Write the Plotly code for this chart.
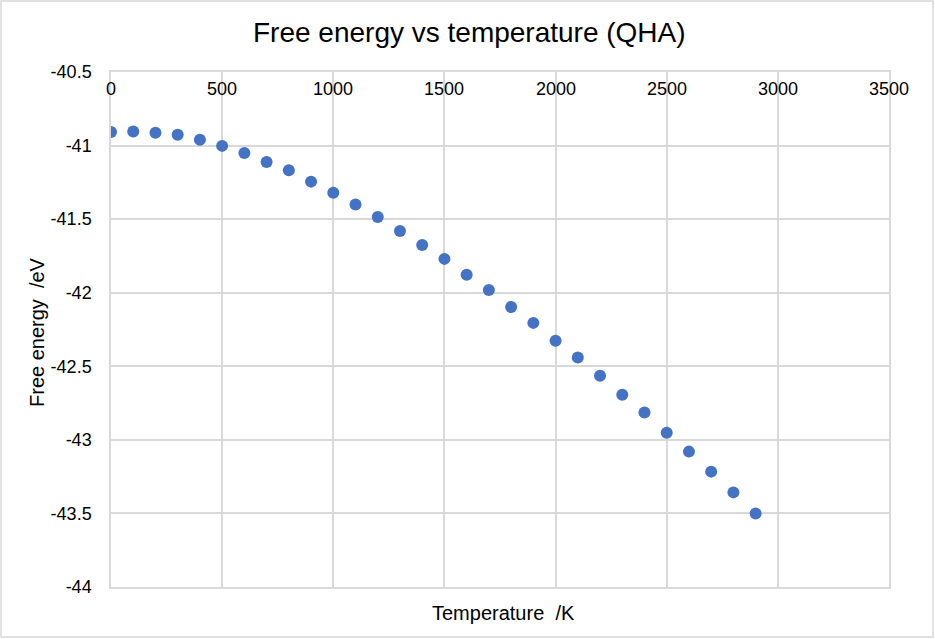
import plotly.graph_objects as go

temperature = [0, 100, 200, 300, 400, 500, 600, 700, 800, 900, 1000, 1100, 1200, 1300, 1400,
               1500, 1600, 1700, 1800, 1900, 2000, 2100, 2200, 2300, 2400, 2500, 2600, 2700, 2800, 2900]
free_energy = [-40.907, -40.905, -40.913, -40.927, -40.961, -41.002, -41.051, -41.111, -41.168, -41.245,
               -41.320, -41.400, -41.486, -41.581, -41.676, -41.770, -41.878, -41.982, -42.097, -42.205,
               -42.326, -42.441, -42.565, -42.694, -42.814, -42.952, -43.080, -43.216, -43.357, -43.500]

x_ticks = [0, 500, 1000, 1500, 2000, 2500, 3000, 3500]
x_tick_text = ["0", "500", "1000", "1500", "2000", "2500", "3000", "3500"]
y_ticks = [-40.5, -41, -41.5, -42, -42.5, -43, -43.5, -44]
y_tick_text = ["-40.5", "-41", "-41.5", "-42", "-42.5", "-43", "-43.5", "-44"]

W, H = 935, 639
L, R, T, B = 111, 46, 72, 52
pw, ph = W - L - R, H - T - B

grid = "#d9d9d9"
font = "Liberation Sans, Arial, sans-serif"

fig = go.Figure()
fig.add_trace(go.Scatter(
    x=temperature, y=free_energy, mode="markers",
    marker=dict(color="#4472C4", size=12, line=dict(width=0)),
    showlegend=False,
))

annotations = [
    dict(text="Free energy vs temperature (QHA)", xref="paper", yref="paper",
         x=(W / 2 + 2 - L) / pw, y=1 + (T - 32) / ph,
         xanchor="center", yanchor="middle", showarrow=False,
         font=dict(size=28, family=font, color="#000000")),
    dict(text="Temperature  /K", xref="paper", yref="paper",
         x=(503 - L) / pw, y=-(613 - (T + ph)) / ph,
         xanchor="center", yanchor="middle", showarrow=False,
         font=dict(size=20, family=font, color="#000000")),
    dict(text="Free energy  /eV", xref="paper", yref="paper",
         x=-(L - 37) / pw, y=1 - (332 - T) / ph, textangle=-90,
         xanchor="center", yanchor="middle", showarrow=False,
         font=dict(size=20, family=font, color="#000000")),
]
for v, t in zip(x_ticks, x_tick_text):
    annotations.append(dict(text=t, xref="x", yref="paper", x=v, y=1 - (89 - T) / ph,
                            xanchor="center", yanchor="middle", showarrow=False,
                            font=dict(size=18, family=font, color="#000000")))

fig.update_layout(
    width=W, height=H,
    margin=dict(l=L, r=R, t=T, b=B, pad=0),
    paper_bgcolor="white", plot_bgcolor="white",
    font=dict(family=font, color="#000000", size=18),
    xaxis=dict(
        range=[0, 3500], tickvals=x_ticks, showticklabels=False,
        showgrid=True, gridcolor=grid, gridwidth=1.5, zeroline=False,
        showline=True, linecolor=grid, linewidth=1.5, mirror=True, ticks="",
    ),
    yaxis=dict(
        range=[-44.0001, -40.4999], tickvals=y_ticks, ticktext=y_tick_text,
        showgrid=True, gridcolor=grid, gridwidth=1.5, zeroline=False,
        showline=True, linecolor=grid, linewidth=1.5, mirror=True,
        ticks="", ticklabelstandoff=14, tickfont=dict(size=18, family=font, color="#000000"),
    ),
    annotations=annotations,
    shapes=[
        dict(type="rect", xref="paper", yref="paper",
             x0=-(L - 1) / pw, x1=1 + (R - 2) / pw,
             y0=-(B - 2) / ph, y1=1 + (T - 1) / ph,
             line=dict(color="#d9d9d9", width=1.5), fillcolor="rgba(0,0,0,0)", layer="below"),
    ],
)

fig.write_html("out.html", config={"displayModeBar": False},
               post_script="document.body.style.margin='0';document.body.style.overflow='hidden';")
